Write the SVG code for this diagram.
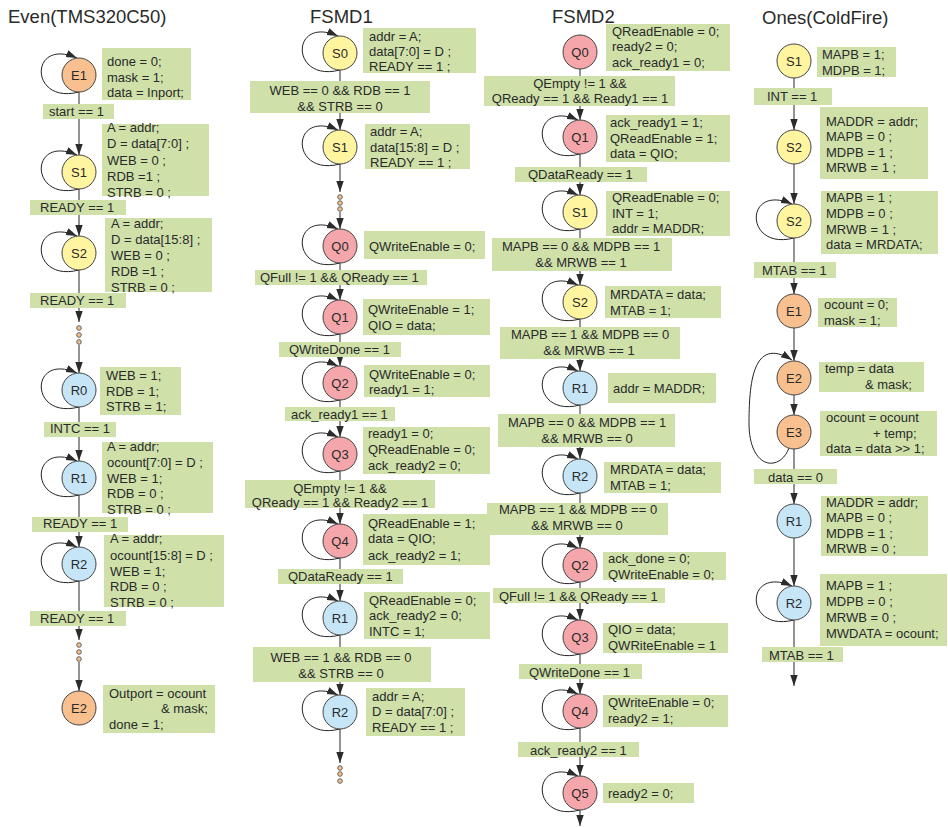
<svg xmlns="http://www.w3.org/2000/svg" width="948" height="827" viewBox="0 0 948 827">
<defs>
<marker id="ah" markerUnits="userSpaceOnUse" markerWidth="12" markerHeight="9" refX="11" refY="4" orient="auto">
<path d="M0,0.3 L11,4 L0,7.7 z" fill="#2b2b2b"/>
</marker>
<style>
.ln{stroke:#5a5a5a;stroke-width:1.3;fill:none}
.lp{stroke:#222;stroke-width:1;fill:none}
.bx{fill:#cfe0a9}
.t{font-family:"Liberation Sans",Arial,sans-serif;font-size:13px;fill:#2a2a2a}
.c{text-anchor:middle}
.ttl{font-family:"Liberation Sans",Arial,sans-serif;font-size:18.5px;fill:#2a2a2a}
.nd{stroke:#444;stroke-width:1}
.y{fill:#fff5a0}.o{fill:#f9c08f}.r{fill:#f4a6aa}.b{fill:#c6e6f8}
.dot{fill:#f9c08f;stroke:#555;stroke-width:0.9}
</style>
</defs>
<rect width="948" height="827" fill="#fff"/>
<g id="titles">
<text class="ttl" x="8" y="23">Even(TMS320C50)</text>
<text class="ttl" x="310" y="23">FSMD1</text>
<text class="ttl" x="552" y="23">FSMD2</text>
<text class="ttl" x="762" y="24">Ones(ColdFire)</text>
</g>
<g id="connectors">
<g class="ln" marker-end="url(#ah)">
<path d="M79 92V155"/><path d="M79 189V236"/><path d="M79 270V322"/><path d="M79 345V373"/>
<path d="M79 407V461"/><path d="M79 495V547"/><path d="M79 581V640"/><path d="M79 662V691"/>
<path d="M340 70V130"/><path d="M340 164V192"/><path d="M340 212V229"/><path d="M340 263V300"/>
<path d="M340 334V366"/><path d="M340 400V437"/><path d="M340 471V524"/><path d="M340 558V601"/>
<path d="M340 635V695"/><path d="M340 729V763"/>
<path d="M580 69V120"/><path d="M580 154V195"/><path d="M580 229V285"/><path d="M580 319V371"/>
<path d="M580 405V459"/><path d="M580 493V548"/><path d="M580 582V620"/><path d="M580 654V694"/>
<path d="M580 728V776"/><path d="M580 810V826"/>
<path d="M794 78V130"/><path d="M794 164V204"/><path d="M794 238V294"/><path d="M794 328V361"/>
<path d="M794 395V415"/><path d="M794 449V504"/><path d="M794 538V586"/><path d="M794 620V686"/>
</g>
<g class="lp" marker-end="url(#ah)">
<path d="M79 92C29 105 29 37 77 58"/><path d="M79 189C29 202 29 134 77 155"/>
<path d="M79 270C29 283 29 215 77 236"/><path d="M79 407C29 420 29 352 77 373"/>
<path d="M79 495C29 508 29 440 77 461"/><path d="M79 581C29 594 29 526 77 547"/>
<path d="M340 70C290 83 290 15 338 36"/><path d="M340 164C290 177 290 109 338 130"/>
<path d="M340 263C290 276 290 208 338 229"/><path d="M340 334C290 347 290 279 338 300"/>
<path d="M340 400C290 413 290 345 338 366"/><path d="M340 471C290 484 290 416 338 437"/>
<path d="M340 558C290 571 290 503 338 524"/><path d="M340 635C290 648 290 580 338 601"/>
<path d="M340 729C290 742 290 674 338 695"/>
<path d="M580 154C530 167 530 99 578 120"/><path d="M580 229C530 242 530 174 578 195"/>
<path d="M580 319C530 332 530 264 578 285"/><path d="M580 405C530 418 530 350 578 371"/>
<path d="M580 493C530 506 530 438 578 459"/><path d="M580 582C530 595 530 527 578 548"/>
<path d="M580 654C530 667 530 599 578 620"/><path d="M580 728C530 741 530 673 578 694"/>
<path d="M580 810C530 823 530 755 578 776"/>
<path d="M794 238C744 251 744 183 792 204"/><path d="M794 620C744 633 744 565 792 586"/>
<path d="M789 448C780 472 750 470 749 425C749 385 752 335 792 360"/>
</g>
<g>
<circle class="dot" cx="79" cy="328" r="2.3"/><circle class="dot" cx="79" cy="335" r="2.3"/><circle class="dot" cx="79" cy="342" r="2.3"/>
<circle class="dot" cx="79" cy="645" r="2.3"/><circle class="dot" cx="79" cy="652" r="2.3"/><circle class="dot" cx="79" cy="659" r="2.3"/>
<circle class="dot" cx="340" cy="197" r="2.3"/><circle class="dot" cx="340" cy="203" r="2.3"/><circle class="dot" cx="340" cy="209" r="2.3"/>
<circle class="dot" cx="340" cy="768" r="2.3"/><circle class="dot" cx="340" cy="774" r="2.3"/><circle class="dot" cx="340" cy="781" r="2.3"/>
</g>
<g id="conditions">
<rect class="bx" x="43" y="104" width="71" height="15"/><text class="t" x="49" y="116">start == 1</text>
<rect class="bx" x="30" y="200" width="96" height="15"/><text class="t" x="40" y="211.5">READY == 1</text>
<rect class="bx" x="30" y="293" width="96" height="15"/><text class="t" x="40" y="304.5">READY == 1</text>
<rect class="bx" x="44" y="422" width="72" height="15"/><text class="t" x="50" y="433">INTC == 1</text>
<rect class="bx" x="32" y="517" width="96" height="15"/><text class="t" x="43" y="528">READY == 1</text>
<rect class="bx" x="30" y="611" width="96" height="15"/><text class="t" x="40" y="622.5">READY == 1</text>

<rect class="bx" x="250" y="81" width="180" height="32"/><text class="t c" x="340" y="94.5">WEB == 0 &amp;&amp; RDB == 1</text><text class="t c" x="340" y="110.5">&amp;&amp; STRB == 0</text>
<rect class="bx" x="255" y="270" width="172" height="15"/><text class="t" x="260" y="281.5">QFull != 1 &amp;&amp; QReady == 1</text>
<rect class="bx" x="279" y="342" width="122" height="15"/><text class="t" x="289" y="353.5">QWriteDone == 1</text>
<rect class="bx" x="285" y="407" width="110" height="14"/><text class="t" x="291" y="418.5">ack_ready1 == 1</text>
<rect class="bx" x="245" y="480" width="190" height="28"/><text class="t c" x="340" y="492.5">QEmpty != 1 &amp;&amp;</text><text class="t c" x="340" y="506.5">QReady == 1 &amp;&amp; Ready2 == 1</text>
<rect class="bx" x="278" y="569" width="125" height="15"/><text class="t" x="288" y="581">QDataReady == 1</text>
<rect class="bx" x="253" y="647" width="178" height="35"/><text class="t c" x="341" y="661.5">WEB == 1 &amp;&amp; RDB == 0</text><text class="t c" x="341" y="677.5">&amp;&amp; STRB == 0</text>

<rect class="bx" x="484" y="76" width="191" height="30"/><text class="t c" x="580" y="87.5">QEmpty != 1 &amp;&amp;</text><text class="t c" x="580" y="103">QReady == 1 &amp;&amp; Ready1 == 1</text>
<rect class="bx" x="515" y="167" width="132" height="15"/><text class="t" x="528" y="178.5">QDataReady == 1</text>
<rect class="bx" x="492" y="238" width="180" height="33"/><text class="t c" x="581" y="251">MAPB == 0 &amp;&amp; MDPB == 1</text><text class="t c" x="581" y="267">&amp;&amp; MRWB == 1</text>
<rect class="bx" x="500" y="327" width="180" height="32"/><text class="t c" x="590" y="338.5">MAPB == 1 &amp;&amp; MDPB == 0</text><text class="t c" x="589" y="355">&amp;&amp; MRWB == 1</text>
<rect class="bx" x="498" y="414" width="177" height="33"/><text class="t c" x="587" y="426.5">MAPB == 0 &amp;&amp; MDPB == 1</text><text class="t c" x="587" y="442.5">&amp;&amp; MRWB == 0</text>
<rect class="bx" x="487" y="503" width="181" height="32"/><text class="t c" x="578" y="513.5">MAPB == 1 &amp;&amp; MDPB == 0</text><text class="t c" x="577" y="530">&amp;&amp; MRWB == 0</text>
<rect class="bx" x="493" y="588" width="172" height="15"/><text class="t" x="499" y="600.5">QFull != 1 &amp;&amp; QReady == 1</text>
<rect class="bx" x="519" y="664" width="123" height="15"/><text class="t" x="529" y="676.5">QWriteDone == 1</text>
<rect class="bx" x="518" y="742" width="121" height="15"/><text class="t" x="530" y="754.5">ack_ready2 == 1</text>

<rect class="bx" x="754" y="88" width="78" height="17"/><text class="t" x="767" y="101">INT == 1</text>
<rect class="bx" x="754" y="262" width="82" height="16"/><text class="t" x="762" y="274.5">MTAB == 1</text>
<rect class="bx" x="754" y="469" width="83" height="15"/><text class="t" x="768" y="481.5">data == 0</text>
<rect class="bx" x="762" y="647" width="81" height="15"/><text class="t" x="769" y="659.5">MTAB == 1</text>
</g>
</g>

<g id="even-E1"><circle class="nd o" cx="79" cy="75" r="17"/><text class="t c" x="79" y="79.5">E1</text>
<rect class="bx" x="102" y="48" width="89" height="52"/><text class="t" x="107" y="66">done = 0;</text><text class="t" x="107" y="81.5">mask = 1;</text><text class="t" x="107" y="97">data = Inport;</text></g>
<g id="even-S1"><circle class="nd y" cx="79" cy="172" r="17"/><text class="t c" x="79" y="176.5">S1</text>
<rect class="bx" x="102" y="124" width="107" height="72"/><text class="t" x="107" y="131.5">A = addr;</text><text class="t" x="107" y="148">D = data[7:0] ;</text><text class="t" x="107" y="164.5">WEB = 0 ;</text><text class="t" x="107" y="180.5">RDB =1 ;</text><text class="t" x="107" y="196.5">STRB = 0 ;</text></g>
<g id="even-S2"><circle class="nd y" cx="79" cy="253" r="17"/><text class="t c" x="79" y="257.5">S2</text>
<rect class="bx" x="105" y="218" width="107" height="74"/><text class="t" x="111" y="228">A = addr;</text><text class="t" x="111" y="244">D = data[15:8] ;</text><text class="t" x="111" y="260">WEB = 0 ;</text><text class="t" x="111" y="276">RDB =1 ;</text><text class="t" x="111" y="292">STRB = 0 ;</text></g>
<g id="even-R0"><circle class="nd b" cx="79" cy="390" r="17"/><text class="t c" x="79" y="394.5">R0</text>
<rect class="bx" x="100" y="367" width="81" height="48"/><text class="t" x="106" y="379.5">WEB = 1;</text><text class="t" x="106" y="395.5">RDB = 1;</text><text class="t" x="106" y="410.5">STRB = 1;</text></g>
<g id="even-R1"><circle class="nd b" cx="79" cy="478" r="17"/><text class="t c" x="79" y="482.5">R1</text>
<rect class="bx" x="102" y="442" width="111" height="71"/><text class="t" x="107" y="451">A = addr;</text><text class="t" x="107" y="466.5">ocount[7:0] = D ;</text><text class="t" x="107" y="482.5">WEB = 1;</text><text class="t" x="107" y="497.5">RDB = 0 ;</text><text class="t" x="107" y="513.5">STRB = 0 ;</text></g>
<g id="even-R2"><circle class="nd b" cx="79" cy="564" r="17"/><text class="t c" x="79" y="568.5">R2</text>
<rect class="bx" x="104" y="535" width="120" height="72"/><text class="t" x="110" y="542.5">A = addr;</text><text class="t" x="110" y="559.5">ocount[15:8] = D ;</text><text class="t" x="110" y="575.5">WEB = 1;</text><text class="t" x="110" y="590.5">RDB = 0 ;</text><text class="t" x="110" y="606.5">STRB = 0 ;</text></g>
<g id="even-E2"><circle class="nd o" cx="79" cy="708" r="17"/><text class="t c" x="79" y="712.5">E2</text>
<rect class="bx" x="103" y="685" width="112" height="48"/><text class="t" x="109" y="697.5">Outport = ocount</text><text class="t" x="161" y="713">&amp; mask;</text><text class="t" x="109" y="728.5">done = 1;</text></g>

<g id="f1-S0"><circle class="nd y" cx="340" cy="53" r="17"/><text class="t c" x="340" y="57.5">S0</text>
<rect class="bx" x="363" y="28" width="113" height="45"/><text class="t" x="369" y="41">addr = A;</text><text class="t" x="369" y="56">data[7:0] = D ;</text><text class="t" x="369" y="71">READY == 1 ;</text></g>
<g id="f1-S1"><circle class="nd y" cx="340" cy="147" r="17"/><text class="t c" x="340" y="151.5">S1</text>
<rect class="bx" x="365" y="124" width="105" height="45"/><text class="t" x="370" y="135.5">addr = A;</text><text class="t" x="370" y="151.5">data[15:8] = D ;</text><text class="t" x="370" y="166.5">READY == 1 ;</text></g>
<g id="f1-Q0"><circle class="nd r" cx="340" cy="246" r="17"/><text class="t c" x="340" y="250.5">Q0</text>
<rect class="bx" x="364" y="231" width="121" height="28"/><text class="t" x="369" y="250.5">QWriteEnable = 0;</text></g>
<g id="f1-Q1"><circle class="nd r" cx="340" cy="317" r="17"/><text class="t c" x="340" y="321.5">Q1</text>
<rect class="bx" x="363" y="299" width="127" height="36"/><text class="t" x="368" y="314">QWriteEnable = 1;</text><text class="t" x="368" y="330">QIO = data;</text></g>
<g id="f1-Q2"><circle class="nd r" cx="340" cy="383" r="17"/><text class="t c" x="340" y="387.5">Q2</text>
<rect class="bx" x="364" y="365" width="126" height="32"/><text class="t" x="369" y="378.5">QWriteEnable = 0;</text><text class="t" x="369" y="394">ready1 = 1;</text></g>
<g id="f1-Q3"><circle class="nd r" cx="340" cy="454" r="17"/><text class="t c" x="340" y="458.5">Q3</text>
<rect class="bx" x="363" y="427" width="127" height="47"/><text class="t" x="368" y="438">ready1 = 0;</text><text class="t" x="368" y="454">QReadEnable = 0;</text><text class="t" x="368" y="470">ack_ready2 = 0;</text></g>
<g id="f1-Q4"><circle class="nd r" cx="340" cy="541" r="17"/><text class="t c" x="340" y="545.5">Q4</text>
<rect class="bx" x="363" y="514" width="127" height="51"/><text class="t" x="368" y="527.5">QReadEnable  = 1;</text><text class="t" x="368" y="543">data = QIO;</text><text class="t" x="368" y="559.5">ack_ready2 = 1;</text></g>
<g id="f1-R1"><circle class="nd b" cx="340" cy="618" r="17"/><text class="t c" x="340" y="622.5">R1</text>
<rect class="bx" x="364" y="592" width="126" height="47"/><text class="t" x="369" y="604.5">QReadEnable = 0;</text><text class="t" x="369" y="620">ack_ready2 = 0;</text><text class="t" x="369" y="636">INTC = 1;</text></g>
<g id="f1-R2"><circle class="nd b" cx="340" cy="712" r="17"/><text class="t c" x="340" y="716.5">R2</text>
<rect class="bx" x="366" y="688" width="99" height="48"/><text class="t" x="372" y="700.5">addr = A;</text><text class="t" x="372" y="716">D = data[7:0] ;</text><text class="t" x="372" y="731.5">READY == 1 ;</text></g>

<g id="f2-Q0"><circle class="nd r" cx="580" cy="52" r="17"/><text class="t c" x="580" y="56.5">Q0</text>
<rect class="bx" x="606" y="24" width="124" height="47"/><text class="t" x="612" y="35.5">QReadEnable = 0;</text><text class="t" x="612" y="51">ready2 = 0;</text><text class="t" x="612" y="67">ack_ready1 = 0;</text></g>
<g id="f2-Q1"><circle class="nd r" cx="580" cy="137" r="17"/><text class="t c" x="580" y="141.5">Q1</text>
<rect class="bx" x="606" y="115" width="124" height="47"/><text class="t" x="610" y="126.5">ack_ready1 = 1;</text><text class="t" x="610" y="142.5">QReadEnable = 1;</text><text class="t" x="610" y="158">data = QIO;</text></g>
<g id="f2-S1"><circle class="nd y" cx="580" cy="212" r="17"/><text class="t c" x="580" y="216.5">S1</text>
<rect class="bx" x="606" y="191" width="124" height="45"/><text class="t" x="612" y="202">QReadEnable = 0;</text><text class="t" x="612" y="217.5">INT = 1;</text><text class="t" x="612" y="233">addr = MADDR;</text></g>
<g id="f2-S2"><circle class="nd y" cx="580" cy="302" r="17"/><text class="t c" x="580" y="306.5">S2</text>
<rect class="bx" x="605" y="286" width="116" height="32"/><text class="t" x="610" y="298.5">MRDATA = data;</text><text class="t" x="610" y="314.5">MTAB  = 1;</text></g>
<g id="f2-R1"><circle class="nd b" cx="580" cy="388" r="17"/><text class="t c" x="580" y="392.5">R1</text>
<rect class="bx" x="608" y="373" width="108" height="30"/><text class="t" x="613" y="392.5">addr = MADDR;</text></g>
<g id="f2-R2"><circle class="nd b" cx="580" cy="476" r="17"/><text class="t c" x="580" y="480.5">R2</text>
<rect class="bx" x="604" y="462" width="117" height="31"/><text class="t" x="610" y="473.5">MRDATA = data;</text><text class="t" x="610" y="489.5">MTAB  = 1;</text></g>
<g id="f2-Q2"><circle class="nd r" cx="580" cy="565" r="17"/><text class="t c" x="580" y="569.5">Q2</text>
<rect class="bx" x="603" y="552" width="123" height="28"/><text class="t" x="608" y="562.5">ack_done = 0;</text><text class="t" x="608" y="578.5">QWriteEnable = 0;</text></g>
<g id="f2-Q3"><circle class="nd r" cx="580" cy="637" r="17"/><text class="t c" x="580" y="641.5">Q3</text>
<rect class="bx" x="603" y="623" width="125" height="30"/><text class="t" x="608" y="633.5">QIO = data;</text><text class="t" x="608" y="649.5">QWRiteEnable = 1</text></g>
<g id="f2-Q4"><circle class="nd r" cx="580" cy="711" r="17"/><text class="t c" x="580" y="715.5">Q4</text>
<rect class="bx" x="603" y="695" width="125" height="32"/><text class="t" x="608" y="706.5">QWriteEnable = 0;</text><text class="t" x="608" y="722.5">ready2 = 1;</text></g>
<g id="f2-Q5"><circle class="nd r" cx="580" cy="793" r="17"/><text class="t c" x="580" y="797.5">Q5</text>
<rect class="bx" x="603" y="783" width="91" height="20"/><text class="t" x="608" y="797.5">ready2 = 0;</text></g>

<g id="ones-S1"><circle class="nd y" cx="794" cy="61" r="17"/><text class="t c" x="794" y="65.5">S1</text>
<rect class="bx" x="817" y="47" width="79" height="30"/><text class="t" x="822" y="58.5">MAPB = 1;</text><text class="t" x="822" y="74.5">MDPB = 1;</text></g>
<g id="ones-S2a"><circle class="nd y" cx="794" cy="147" r="17"/><text class="t c" x="794" y="151.5">S2</text>
<rect class="bx" x="820" y="107" width="108" height="72"/><text class="t" x="826" y="125.5">MADDR = addr;</text><text class="t" x="826" y="140.5">MAPB = 0 ;</text><text class="t" x="826" y="156.5">MDPB = 1 ;</text><text class="t" x="826" y="171.5">MRWB = 1 ;</text></g>
<g id="ones-S2b"><circle class="nd y" cx="794" cy="221" r="17"/><text class="t c" x="794" y="225.5">S2</text>
<rect class="bx" x="821" y="191" width="117" height="63"/><text class="t" x="826" y="201.5">MAPB = 1 ;</text><text class="t" x="826" y="217.5">MDPB = 0 ;</text><text class="t" x="826" y="233.5">MRWB = 1 ;</text><text class="t" x="826" y="248.5">data = MRDATA;</text></g>
<g id="ones-E1"><circle class="nd o" cx="794" cy="311" r="17"/><text class="t c" x="794" y="315.5">E1</text>
<rect class="bx" x="818" y="298" width="79" height="29"/><text class="t" x="824" y="308.5">ocount = 0;</text><text class="t" x="824" y="324.5">mask = 1;</text></g>
<g id="ones-E2"><circle class="nd o" cx="794" cy="378" r="17"/><text class="t c" x="794" y="382.5">E2</text>
<rect class="bx" x="819" y="362" width="105" height="30"/><text class="t" x="825" y="372.5">temp = data</text><text class="t" x="865" y="388.5">&amp; mask;</text></g>
<g id="ones-E3"><circle class="nd o" cx="794" cy="432" r="17"/><text class="t c" x="794" y="436.5">E3</text>
<rect class="bx" x="820" y="411" width="117" height="45"/><text class="t" x="826" y="421.5">ocount = ocount</text><text class="t" x="873" y="437.5">+ temp;</text><text class="t" x="826" y="453">data = data &gt;&gt; 1;</text></g>
<g id="ones-R1"><circle class="nd b" cx="794" cy="521" r="17"/><text class="t c" x="794" y="525.5">R1</text>
<rect class="bx" x="821" y="496" width="107" height="60"/><text class="t" x="826" y="506.5">MADDR = addr;</text><text class="t" x="826" y="521.5">MAPB = 0 ;</text><text class="t" x="826" y="537.5">MDPB = 1 ;</text><text class="t" x="826" y="553">MRWB = 0 ;</text></g>
<g id="ones-R2"><circle class="nd b" cx="794" cy="603" r="17"/><text class="t c" x="794" y="607.5">R2</text>
<rect class="bx" x="820" y="574" width="127" height="72"/><text class="t" x="826" y="589.5">MAPB = 1 ;</text><text class="t" x="826" y="606">MDPB = 0 ;</text><text class="t" x="826" y="621.5">MRWB = 0 ;</text><text class="t" x="826" y="637.5">MWDATA = ocount;</text></g>
</svg>
